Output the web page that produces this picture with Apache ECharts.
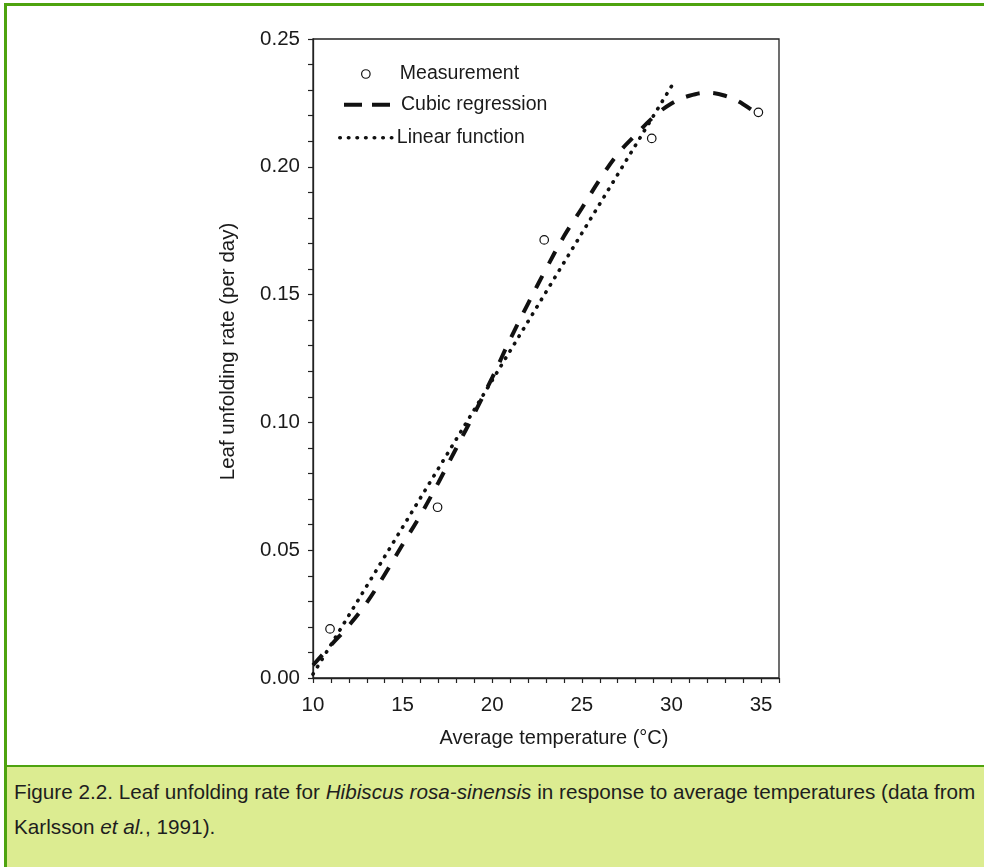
<!DOCTYPE html>
<html>
<head>
<meta charset="utf-8">
<title>Leaf unfolding rate – Hibiscus rosa-sinensis</title>
<script src="https://cdn.jsdelivr.net/npm/echarts@6/dist/echarts.min.js"></script>
<style>
  html, body { margin: 0; padding: 0; background: #ffffff; }
  #page { position: relative; width: 984px; height: 867px; overflow: hidden; background: #ffffff; }
  #chart { position: absolute; left: 0; top: 0; width: 984px; height: 867px; }
  .frame { position: absolute; background: #4ea30f; }
  #frameLeft { left: 4px; top: 3px; width: 3px; height: 864px; }
  #frameTop { left: 4px; top: 3px; width: 980px; height: 3px; }
  #caption {
    position: absolute; left: 7px; top: 765px; width: 977px; height: 100px;
    border-top: 2px solid #4ea30f; background: #dcec91;
    font-family: "Liberation Sans", Arial, sans-serif; font-size: 20.7px;
    line-height: 34.5px; color: #1e1e1e; white-space: nowrap;
    box-sizing: content-box; padding: 8.4px 0 0 7px;
  }
  #caption i { font-style: italic; }
</style>
</head>
<body>
<div id="page">
  <div id="chart"></div>
  <div class="frame" id="frameLeft"></div>
  <div class="frame" id="frameTop"></div>
  <div id="caption">Figure 2.2. Leaf unfolding rate for <i>Hibiscus rosa-sinensis</i> in response to average temperatures (data from<br>Karlsson <i>et al.</i>, 1991).</div>
</div>
<script>
// Measured leaf unfolding rates (per day) at average temperatures (°C)
const measTemps = [10.95, 16.95, 22.9, 28.9, 34.85];
const measRates = [0.0192, 0.0668, 0.1714, 0.2111, 0.2213];

// Cubic regression curve
const cubicTemps = [10, 11, 12, 13, 14, 15, 16, 17, 18, 19, 20, 21, 22,
                    23, 24, 25, 26, 27, 28, 29, 30, 31, 32, 33, 34, 35];
const cubicRates = [0.0050, 0.0128, 0.0205, 0.0295, 0.0405, 0.0522, 0.0638,
                    0.0765, 0.0900, 0.1035, 0.1175, 0.1325, 0.1465, 0.1600,
                    0.1728, 0.1838, 0.1950, 0.2050, 0.2125, 0.2195, 0.2248,
                    0.2278, 0.2290, 0.2278, 0.2245, 0.2195];

// Linear function (end points)
const linTemps = [10, 30];
const linRates = [0.0015, 0.2315];

// Labelled ticks
const xTickLabels = [10, 15, 20, 25, 30, 35];
const yTickLabels = [0.00, 0.05, 0.10, 0.15, 0.20, 0.25];

const seriesNames = ['Measurement', 'Cubic regression', 'Linear function'];

const FONT = '"Liberation Sans", Arial, sans-serif';
const INK = '#1a1a1a';

const zip = (xs, ys) => xs.map((x, i) => [x, ys[i]]);

const chart = echarts.init(document.getElementById('chart'), null, { renderer: 'canvas' });

const legendText = { fontFamily: FONT, fontSize: 19.5, color: INK };
// line legends show only the line sample, no marker in the middle
const noMarker = { color: 'rgba(0,0,0,0)', borderColor: 'rgba(0,0,0,0)', borderWidth: 0, opacity: 0 };

chart.setOption({
  animation: false,
  backgroundColor: 'transparent',
  color: ['#111111', '#111111', '#111111'],
  grid: {
    left: 313, top: 39, right: 205, bottom: 189,
    show: true, borderColor: '#222', borderWidth: 1.3,
    containLabel: false, outerBoundsMode: 'none'
  },
  legend: [
    {
      left: 361, top: 64, orient: 'vertical', padding: 0,
      itemWidth: 58, itemHeight: 8.5, selectedMode: false,
      textStyle: legendText,
      data: [{
        name: seriesNames[0], icon: 'circle',
        itemStyle: { color: '#ffffff', borderColor: '#111', borderWidth: 1.2 }
      }]
    },
    {
      left: 342, top: 94.7, orient: 'vertical', padding: 0,
      itemWidth: 52, itemHeight: 8, selectedMode: false,
      textStyle: legendText,
      data: [{
        name: seriesNames[1], itemStyle: noMarker,
        lineStyle: { color: '#111', width: 4, type: [18, 10], cap: 'butt' }
      }]
    },
    {
      left: 338, top: 127.8, orient: 'vertical', padding: 0,
      itemWidth: 52, itemHeight: 8, selectedMode: false,
      textStyle: legendText,
      data: [{
        name: seriesNames[2], itemStyle: noMarker,
        lineStyle: { color: '#111', width: 3.6, type: [0.5, 8.1], cap: 'round' }
      }]
    }
  ],
  xAxis: {
    type: 'value', min: 10, max: 36, interval: 1,
    name: 'Average temperature (°C)', nameLocation: 'middle', nameGap: 50,
    nameTextStyle: { fontFamily: FONT, fontSize: 20, color: INK, padding: [0, 0, 0, 16] },
    axisLine: { show: true, onZero: false, lineStyle: { color: '#222', width: 1.3 } },
    axisTick: { show: true, inside: false, length: 5, lineStyle: { color: '#222', width: 1.2 } },
    splitLine: { show: false },
    axisLabel: {
      margin: 17, fontFamily: FONT, fontSize: 20.5, color: INK,
      formatter: v => (xTickLabels.indexOf(Math.round(v * 1000) / 1000) >= 0 ? String(Math.round(v)) : '')
    }
  },
  yAxis: {
    type: 'value', min: 0, max: 0.25, interval: 0.01,
    name: 'Leaf unfolding rate (per day)', nameLocation: 'middle', nameGap: 74,
    nameTextStyle: { fontFamily: FONT, fontSize: 20.5, color: INK, padding: [0, 0, 0, 14] },
    axisLine: { show: true, onZero: false, lineStyle: { color: '#222', width: 1.3 } },
    axisTick: { show: true, inside: false, length: 5, lineStyle: { color: '#222', width: 1.2 } },
    splitLine: { show: false },
    axisLabel: {
      margin: 13, fontFamily: FONT, fontSize: 20.5, color: INK,
      formatter: v => {
        const r = Math.round(v * 1000) / 1000;
        return yTickLabels.some(t => Math.abs(t - r) < 1e-6) ? r.toFixed(2) : '';
      }
    }
  },
  series: [
    {
      name: seriesNames[2], type: 'line', data: zip(linTemps, linRates),
      symbol: 'none', showSymbol: false, z: 2,
      itemStyle: { color: '#111' },
      lineStyle: { color: '#111', width: 3.6, type: [0.5, 8.1], cap: 'round' }
    },
    {
      name: seriesNames[1], type: 'line', data: zip(cubicTemps, cubicRates),
      symbol: 'none', showSymbol: false, smooth: 0.4, z: 3,
      itemStyle: { color: '#111' },
      lineStyle: { color: '#111', width: 4, type: [14, 13.5], cap: 'butt' }
    },
    {
      name: seriesNames[0], type: 'scatter', data: zip(measTemps, measRates),
      symbol: 'circle', symbolSize: 8.5, z: 5,
      itemStyle: { color: '#ffffff', borderColor: '#111', borderWidth: 1.2, opacity: 1 }
    }
  ]
});
</script>
</body>
</html>
